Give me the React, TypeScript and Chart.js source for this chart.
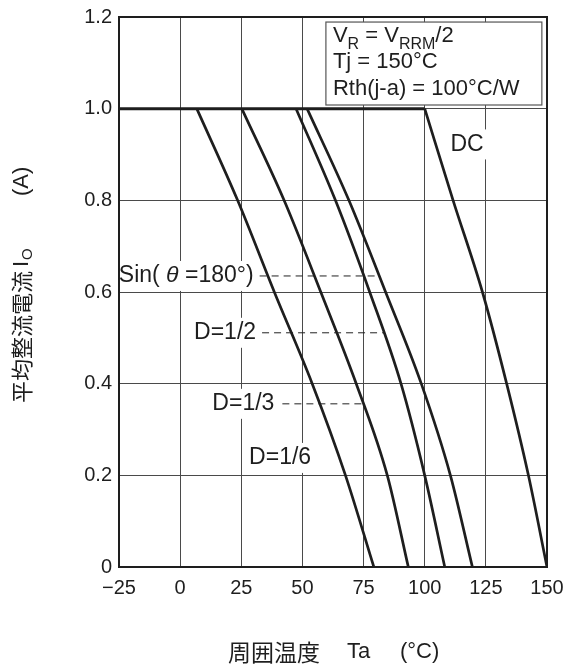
import { useEffect, useRef } from 'react';
import { Chart, registerables } from 'chart.js';

Chart.register(...registerables);

// ---- data ----
const currentLevels = [1.0, 0.8, 0.6, 0.4, 0.2, 0];
const tempsD16 = [6.8, 23.5, 38.5, 54, 67.6, 79.2];
const tempsD13 = [25.2, 42.5, 57.5, 72, 84.7, 93.3];
const tempsD12 = [47.4, 63.5, 77.5, 90.3, 100, 108.2];
const tempsSin = [51.9, 69, 84, 98.6, 110.5, 119.5];
const tempsDC = [100, 111.6, 123.6, 133.5, 142.4, 150];

const flatTemps = [-25, 100];
const flatCurrents = [1, 1];

const leaderSinTemps = [32.5, 81.3];
const leaderSinCurrents = [0.635, 0.635];
const leaderD12Temps = [33.5, 83.3];
const leaderD12Currents = [0.511, 0.511];
const leaderD13Temps = [41.8, 75.1];
const leaderD13Currents = [0.356, 0.356];

const xTickValues = [-25, 0, 25, 50, 75, 100, 125, 150];
const xTickLabels = ['\u221225', '0', '25', '50', '75', '100', '125', '150'];
const yTickValues = [0, 0.2, 0.4, 0.6, 0.8, 1.0, 1.2];
const yTickLabels = ['0', '0.2', '0.4', '0.6', '0.8', '1.0', '1.2'];

const FONT = '"Liberation Sans", Arial, "Noto Sans CJK JP", sans-serif';
const CJK = '"Noto Sans CJK JP", "Liberation Sans", sans-serif';
const INK = '#1e1e1e';

const pts = (xs: number[], ys: number[]) => xs.map((x, i) => ({ x, y: ys[i] }));

type Part = { t: string; sub?: boolean; italic?: boolean };

function drawParts(ctx: CanvasRenderingContext2D, parts: Part[], x: number, y: number, size: number, family = FONT) {
  let cx = x;
  for (const p of parts) {
    const s = p.sub ? Math.round(size * 0.72) : size;
    ctx.font = `${p.italic ? 'italic ' : ''}${s}px ${family}`;
    ctx.fillText(p.t, cx, p.sub ? y + size * 0.3 : y);
    cx += ctx.measureText(p.t).width;
  }
  return cx - x;
}

function measureParts(ctx: CanvasRenderingContext2D, parts: Part[], size: number, family = FONT) {
  let w = 0;
  for (const p of parts) {
    const s = p.sub ? Math.round(size * 0.72) : size;
    ctx.font = `${p.italic ? 'italic ' : ''}${s}px ${family}`;
    w += ctx.measureText(p.t).width;
  }
  return w;
}

const LABEL_SIZE = 23;

function labelLayout(chart: any) {
  const { ctx, scales } = chart;
  const xs = scales.x;
  const ys = scales.y;
  const items: { parts: Part[]; x: number; y: number; w: number }[] = [];
  const addRight = (parts: Part[], right: number, y: number) => {
    const w = measureParts(ctx, parts, LABEL_SIZE);
    items.push({ parts, x: right - w, y, w });
  };
  const addLeft = (parts: Part[], left: number, y: number) => {
    const w = measureParts(ctx, parts, LABEL_SIZE);
    items.push({ parts, x: left, y, w });
  };
  addRight([{ t: 'Sin( ' }, { t: '\u03b8', italic: true }, { t: ' =180\u00b0)' }], xs.getPixelForValue(leaderSinTemps[0]) - 6, ys.getPixelForValue(leaderSinCurrents[0]));
  addRight([{ t: 'D=1/2' }], xs.getPixelForValue(leaderD12Temps[0]) - 6, ys.getPixelForValue(leaderD12Currents[0]));
  addRight([{ t: 'D=1/3' }], xs.getPixelForValue(leaderD13Temps[0]) - 8, ys.getPixelForValue(leaderD13Currents[0]));
  addLeft([{ t: 'D=1/6' }], xs.getPixelForValue(28.2), ys.getPixelForValue(0.238));
  addLeft([{ t: 'DC' }], xs.getPixelForValue(110.5), ys.getPixelForValue(0.922));
  return items;
}

const overlayPlugin = {
  id: 'overlay',
  beforeDatasetsDraw(chart: any) {
    const { ctx } = chart;
    ctx.save();
    ctx.fillStyle = '#ffffff';
    for (const it of labelLayout(chart)) {
      ctx.fillRect(it.x - 3, it.y - 15, it.w + 6, 30);
    }
    ctx.restore();
  },
  afterDraw(chart: any) {
    const { ctx, chartArea: a, scales } = chart;
    const xs = scales.x;
    const ys = scales.y;
    ctx.save();
    // frame
    ctx.strokeStyle = INK;
    ctx.lineWidth = 2;
    ctx.strokeRect(a.left, a.top, a.right - a.left, a.bottom - a.top);

    ctx.fillStyle = INK;
    ctx.textBaseline = 'middle';
    ctx.textAlign = 'left';

    for (const it of labelLayout(chart)) {
      drawParts(ctx, it.parts, it.x, it.y, LABEL_SIZE);
    }

    // condition box
    const bx0 = xs.getPixelForValue(59.6);
    const bx1 = xs.getPixelForValue(147.9);
    const by0 = ys.getPixelForValue(1.189);
    const by1 = ys.getPixelForValue(1.008);
    ctx.fillStyle = '#ffffff';
    ctx.fillRect(bx0, by0, bx1 - bx0, by1 - by0);
    ctx.strokeStyle = '#555';
    ctx.lineWidth = 1.2;
    ctx.strokeRect(bx0, by0, bx1 - bx0, by1 - by0);
    ctx.fillStyle = INK;
    ctx.textBaseline = 'alphabetic';
    const bs = 22;
    const tx = bx0 + 7;
    drawParts(ctx, [{ t: 'V' }, { t: 'R', sub: true }, { t: ' = V' }, { t: 'RRM', sub: true }, { t: '/2' }], tx, by0 + 20, bs);
    drawParts(ctx, [{ t: 'Tj = 150\u00b0C' }], tx, by0 + 46, bs);
    drawParts(ctx, [{ t: 'Rth(j-a) = 100\u00b0C/W' }], tx, by0 + 72.5, bs);

    // x title
    ctx.textBaseline = 'middle';
    ctx.font = `23px ${CJK}`;
    ctx.fillText('\u5468\u56f2\u6e29\u5ea6', 228, 652);
    ctx.font = `22px ${FONT}`;
    ctx.fillText('Ta', 347, 652);
    ctx.fillText('(\u00b0C)', 400, 652);

    // y title (rotated)
    ctx.save();
    ctx.translate(22, 0);
    ctx.rotate(-Math.PI / 2);
    ctx.textBaseline = 'middle';
    ctx.font = `22px ${CJK}`;
    ctx.fillText('\u5e73\u5747\u6574\u6d41\u96fb\u6d41', -403, 0);
    ctx.font = `22px ${FONT}`;
    ctx.fillText('I', -267, 0);
    const iw = ctx.measureText('I').width;
    ctx.font = `15px ${FONT}`;
    ctx.fillText('O', -267 + iw + 1, 6);
    ctx.font = `22px ${FONT}`;
    ctx.fillText('(A)', -196, 0);
    ctx.restore();

    ctx.restore();
  },
};

export default function App() {
  const ref = useRef<HTMLCanvasElement | null>(null);

  useEffect(() => {
    if (!ref.current) return;
    const curve = (xsArr: number[]) => ({
      data: pts(xsArr, currentLevels),
      showLine: true,
      borderColor: INK,
      borderWidth: 2.7,
      pointRadius: 0,
      cubicInterpolationMode: 'monotone' as const,
      fill: false,
    });
    const leader = (xsArr: number[], ysArr: number[]) => ({
      data: pts(xsArr, ysArr),
      showLine: true,
      borderColor: '#222',
      borderWidth: 1,
      borderDash: [7, 5],
      pointRadius: 0,
      fill: false,
    });
    const chart = new Chart(ref.current, {
      type: 'scatter',
      data: {
        datasets: [
          leader(leaderSinTemps, leaderSinCurrents),
          leader(leaderD12Temps, leaderD12Currents),
          leader(leaderD13Temps, leaderD13Currents),
          {
            data: pts(flatTemps, flatCurrents),
            showLine: true,
            borderColor: INK,
            borderWidth: 3,
            pointRadius: 0,
            fill: false,
          },
          curve(tempsD16),
          curve(tempsD13),
          curve(tempsD12),
          curve(tempsSin),
          curve(tempsDC),
        ] as any,
      },
      options: {
        animation: false,
        responsive: false,
        devicePixelRatio: 1,
        layout: { padding: { left: 0, right: 18, top: 17, bottom: 0 } },
        plugins: { legend: { display: false }, tooltip: { enabled: false } },
        scales: {
          x: {
            type: 'linear',
            min: -25,
            max: 150,
            afterBuildTicks: (s: any) => {
              s.ticks = xTickValues.map((v) => ({ value: v }));
            },
            afterFit: (s: any) => {
              s.height = 99;
              s.paddingLeft = 0;
              s.paddingRight = 0;
            },
            ticks: {
              padding: 9,
              color: INK,
              font: { family: FONT, size: 20 },
              maxRotation: 0,
              callback: (v: any) => {
                const i = xTickValues.indexOf(Number(v));
                return i >= 0 ? xTickLabels[i] : '';
              },
            },
            grid: { color: '#4a4a4a', lineWidth: 1, drawTicks: false },
            border: { display: false },
          },
          y: {
            type: 'linear',
            min: 0,
            max: 1.2,
            afterBuildTicks: (s: any) => {
              s.ticks = yTickValues.map((v) => ({ value: v }));
            },
            afterFit: (s: any) => {
              s.width = 119;
              s.paddingTop = 0;
              s.paddingBottom = 0;
            },
            ticks: {
              padding: 7,
              color: INK,
              font: { family: FONT, size: 20 },
              callback: (v: any) => {
                const i = yTickValues.findIndex((t) => Math.abs(t - Number(v)) < 1e-6);
                return i >= 0 ? yTickLabels[i] : '';
              },
            },
            grid: { color: '#4a4a4a', lineWidth: 1, drawTicks: false },
            border: { display: false },
          },
        },
      },
      plugins: [overlayPlugin],
    });
    return () => chart.destroy();
  }, []);

  return (
    <div style={{ position: 'absolute', left: 0, top: 0, width: 565, height: 666, background: '#fff' }}>
      <canvas ref={ref} width={565} height={666} style={{ width: 565, height: 666, display: 'block' }} />
    </div>
  );
}
